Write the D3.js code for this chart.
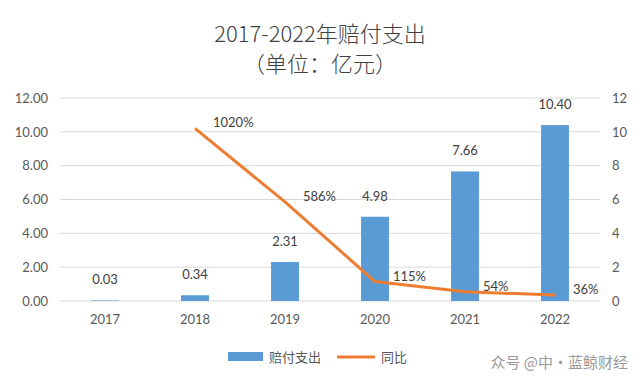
<!DOCTYPE html>
<html>
<head>
<meta charset="utf-8">
<script src="https://cdn.jsdelivr.net/npm/d3@7"></script>
<style>
  body { margin: 0; background: #fff; }
  text { font-family: Lato, "Noto Sans CJK SC", sans-serif; }
</style>
</head>
<body>
<script>
// Chart data
var years = ["2017", "2018", "2019", "2020", "2021", "2022"];
var payout = [0.03, 0.34, 2.31, 4.98, 7.66, 10.40];
var yoyYears = ["2018", "2019", "2020", "2021", "2022"];
var yoy = [1020, 586, 115, 54, 36];  // percent
var leftTicks = [0, 2, 4, 6, 8, 10, 12];
var rightTicks = [0, 2, 4, 6, 8, 10, 12];

var svgWidth = 640;
var svgHeight = 385;
var margin = { top: 98, right: 40, bottom: 84, left: 60 };
var width = svgWidth - margin.left - margin.right;
var height = svgHeight - margin.top - margin.bottom;

var blue = "#5b9bd5";
var orange = "#ed7d31";

var svg = d3.select("body").append("svg")
  .attr("width", svgWidth)
  .attr("height", svgHeight);

// Title
svg.append("text")
  .attr("x", 320).attr("y", 42)
  .attr("text-anchor", "middle")
  .attr("font-size", 22)
  .attr("font-weight", 300)
  .attr("fill", "#404040")
  .style("font-family", "'Noto Sans CJK SC', sans-serif")
  .text("2017-2022年赔付支出");
svg.append("text")
  .attr("x", 320).attr("y", 72)
  .attr("text-anchor", "middle")
  .attr("font-size", 22)
  .attr("font-weight", 300)
  .attr("fill", "#404040")
  .style("font-family", "'Noto Sans CJK SC', sans-serif")
  .text("（单位：亿元）");

var chartGroup = svg.append("g")
  .attr("transform", `translate(${margin.left}, ${margin.top})`);

var x = d3.scaleBand().domain(years).range([0, width]).paddingInner(0.69).paddingOuter(0.345);
var yLeft = d3.scaleLinear().domain([0, 12]).range([height, 0]);
var yRight = d3.scaleLinear().domain([0, 12]).range([height, 0]);

// Gridlines
chartGroup.selectAll(".grid")
  .data(leftTicks)
  .enter()
  .append("line")
  .attr("x1", 0).attr("x2", width)
  .attr("y1", d => yLeft(d)).attr("y2", d => yLeft(d))
  .attr("stroke", "#d9d9d9")
  .attr("stroke-width", 1);

// Left axis
var leftAxis = d3.axisLeft(yLeft).tickValues(leftTicks).tickFormat(d3.format(".2f")).tickSize(0).tickPadding(12);
var gl = chartGroup.append("g").call(leftAxis);
gl.select(".domain").remove();
gl.selectAll("text").attr("font-size", 13).attr("fill", "#595959").style("font-family", "Lato, sans-serif");

// Right axis
var rightAxis = d3.axisRight(yRight).tickValues(rightTicks).tickFormat(d3.format("d")).tickSize(0).tickPadding(12);
var gr = chartGroup.append("g").attr("transform", `translate(${width}, 0)`).call(rightAxis);
gr.select(".domain").remove();
gr.selectAll("text").attr("font-size", 13).attr("fill", "#595959").style("font-family", "Lato, sans-serif");

// Bottom axis
var bottomAxis = d3.axisBottom(x).tickSize(0).tickPadding(14);
var gb = chartGroup.append("g").attr("transform", `translate(0, ${height})`).call(bottomAxis);
gb.select(".domain").remove();
gb.selectAll("text").attr("font-size", 13).attr("fill", "#595959").style("font-family", "Lato, sans-serif");

// Bars
chartGroup.selectAll(".bar")
  .data(payout)
  .enter()
  .append("rect")
  .attr("x", (d, i) => x(years[i]))
  .attr("y", d => yLeft(d))
  .attr("width", x.bandwidth())
  .attr("height", d => height - yLeft(d))
  .attr("fill", blue);

chartGroup.selectAll(".barlabel")
  .data(payout)
  .enter()
  .append("text")
  .attr("x", (d, i) => x(years[i]) + x.bandwidth() / 2)
  .attr("y", d => yLeft(d) - 16)
  .attr("text-anchor", "middle")
  .attr("font-size", 13)
  .attr("fill", "#404040")
  .text(d => d.toFixed(2));

// Line (plotted on right axis, percent / 100)
var line = d3.line()
  .x((d, i) => x(yoyYears[i]) + x.bandwidth() / 2)
  .y(d => yRight(d / 100));

chartGroup.append("path")
  .datum(yoy)
  .attr("d", line)
  .attr("fill", "none")
  .attr("stroke", orange)
  .attr("stroke-width", 3)
  .attr("stroke-linejoin", "round");

chartGroup.selectAll(".linelabel")
  .data(yoy)
  .enter()
  .append("text")
  .attr("x", (d, i) => x(yoyYears[i]) + x.bandwidth() / 2 + 18)
  .attr("y", d => yRight(d / 100) - 1)
  .attr("font-size", 13)
  .attr("fill", "#404040")
  .text(d => d + "%");

// Legend
var legend = svg.append("g");
legend.append("rect").attr("x", 228).attr("y", 352).attr("width", 35).attr("height", 9).attr("fill", blue);
legend.append("text").attr("x", 269).attr("y", 362).attr("font-size", 13).attr("fill", "#595959")
  .style("font-family", "'Noto Sans CJK SC', sans-serif").text("赔付支出");
legend.append("line").attr("x1", 337).attr("x2", 375).attr("y1", 357).attr("y2", 357)
  .attr("stroke", orange).attr("stroke-width", 3);
legend.append("text").attr("x", 381).attr("y", 362).attr("font-size", 13).attr("fill", "#595959")
  .style("font-family", "'Noto Sans CJK SC', sans-serif").text("同比");

// Watermark
svg.append("text").attr("x", 628).attr("y", 368).attr("text-anchor", "end")
  .attr("font-size", 15).attr("fill", "#9a9a9a")
  .style("font-family", "'Noto Sans CJK SC', sans-serif")
  .text("众号 @中·蓝鲸财经");
</script>
</body>
</html>
